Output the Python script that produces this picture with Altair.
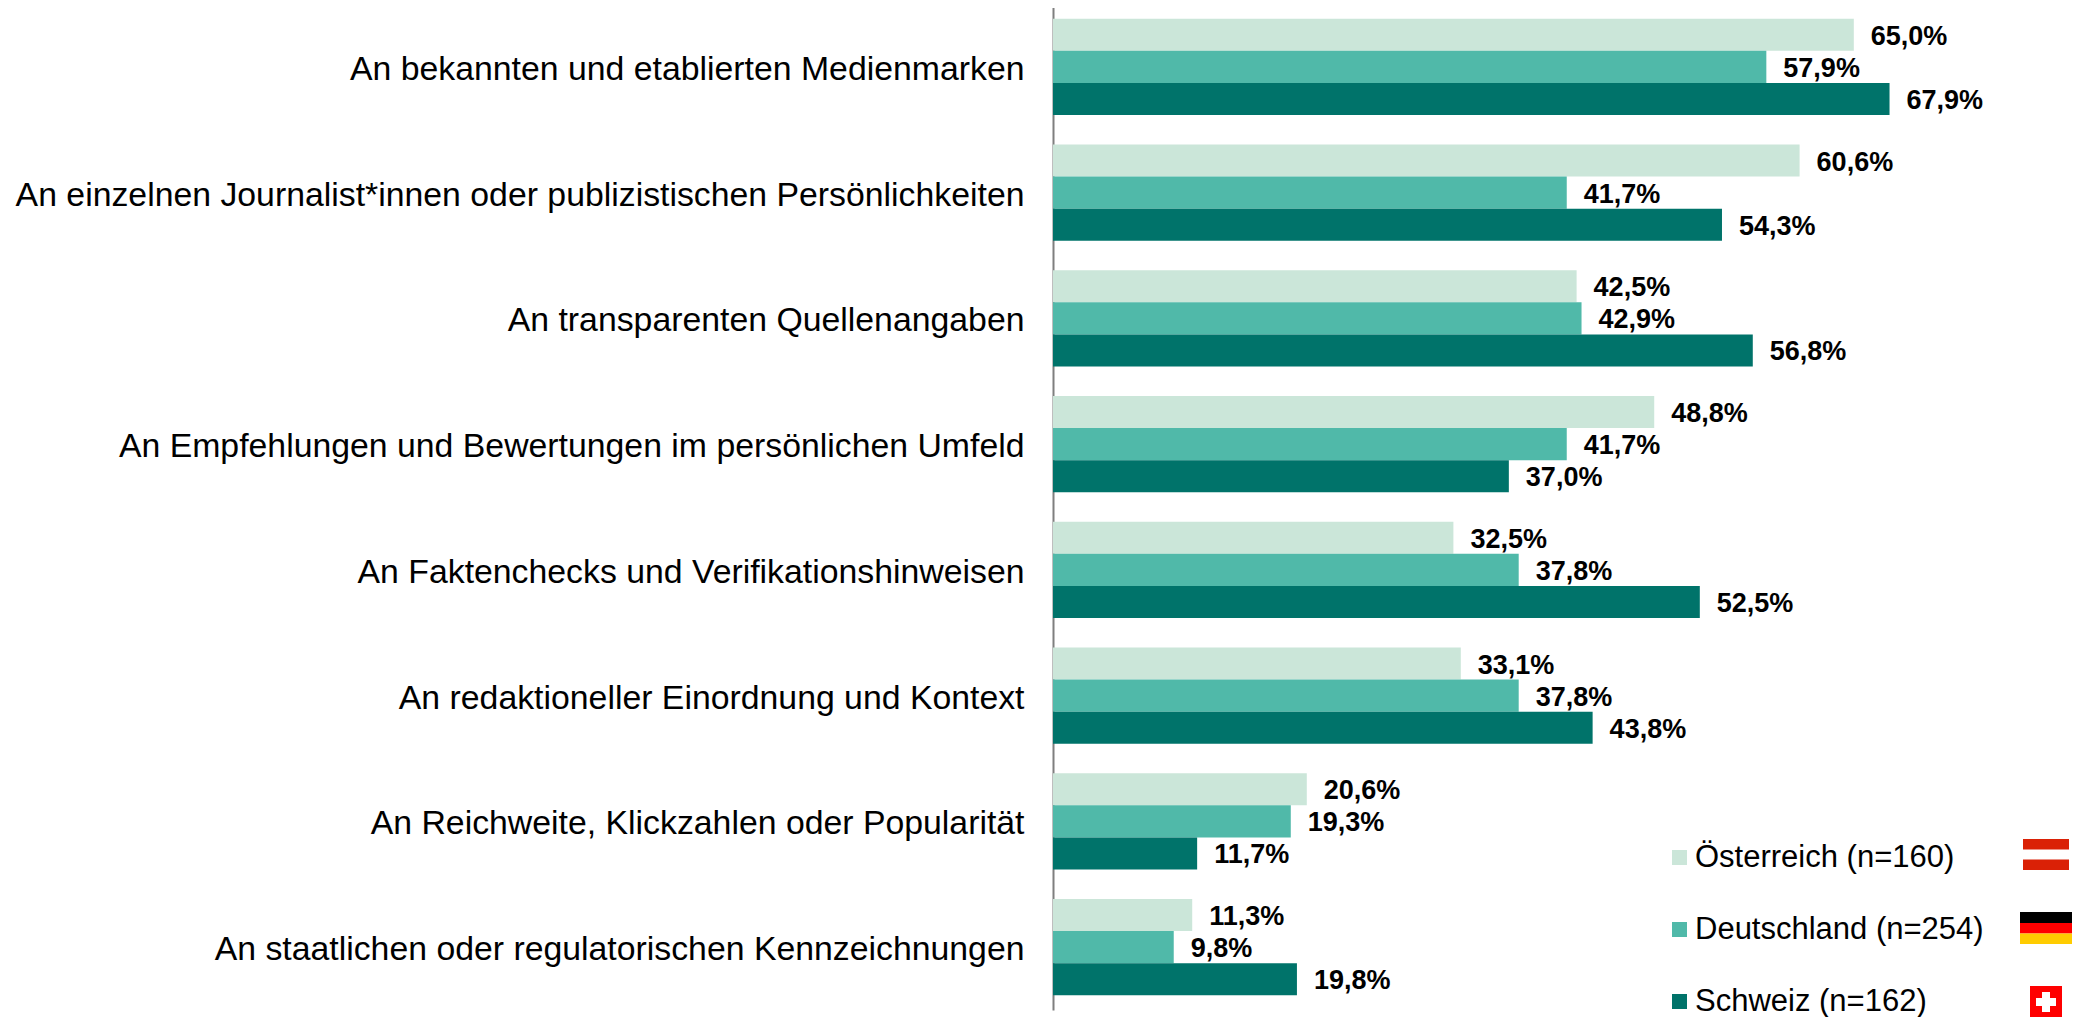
import altair as alt
import pandas as pd

categories = [
    "An bekannten und etablierten Medienmarken",
    "An einzelnen Journalist*innen oder publizistischen Persönlichkeiten",
    "An transparenten Quellenangaben",
    "An Empfehlungen und Bewertungen im persönlichen Umfeld",
    "An Faktenchecks und Verifikationshinweisen",
    "An redaktioneller Einordnung und Kontext",
    "An Reichweite, Klickzahlen oder Popularität",
    "An staatlichen oder regulatorischen Kennzeichnungen",
]
series = ["Österreich (n=160)", "Deutschland (n=254)", "Schweiz (n=162)"]
colors = ["#CBE6D9", "#50B9A9", "#00736A"]
at = [65.0, 60.6, 42.5, 48.8, 32.5, 33.1, 20.6, 11.3]
de = [57.9, 41.7, 42.9, 41.7, 37.8, 37.8, 19.3, 9.8]
ch = [67.9, 54.3, 56.8, 37.0, 52.5, 43.8, 11.7, 19.8]

rows = []
for s, vals in zip(series, [at, de, ch]):
    for c, v in zip(categories, vals):
        rows.append({"cat": c, "series": s, "v": v})
df = pd.DataFrame(rows)

FONT = "Liberation Sans"
y_enc = alt.Y(
    "cat:N", sort=categories, title=None,
    scale=alt.Scale(range=[-4, 1002], paddingInner=0.236, paddingOuter=0.118),
    axis=alt.Axis(domain=True, domainColor="#7f7f7f", domainWidth=2, ticks=False, grid=False,
                  labelFont=FONT, labelFontSize=33.8, labelColor="#000000", labelLimit=1100,
                  labelPadding=29, labelOffset=3),
)
x_enc = alt.X("v:Q", title=None, axis=None, scale=alt.Scale(domain=[0, 82.71], nice=False))
off = alt.YOffset("series:N", sort=series, scale=alt.Scale(paddingInner=0, paddingOuter=0))

bars = alt.Chart(df).mark_bar(cornerRadius=0, clip=False).encode(
    x=x_enc, y=y_enc, yOffset=off,
    color=alt.Color("series:N", sort=series, scale=alt.Scale(domain=series, range=colors),
                    legend=alt.Legend(title=None, orient="none", legendX=611, legendY=834,
                                      symbolType="square", symbolSize=225, symbolStrokeWidth=0,
                                      symbolOpacity=1, labelFont=FONT, labelFontSize=31,
                                      labelColor="#000000", labelLimit=400, labelOffset=0,
                                      rowPadding=40, clipHeight=31)),
)
labels = alt.Chart(df).transform_calculate(
    lab="replace(format(datum.v, '.1f'), '.', ',') + '%'"
).mark_text(align="left", baseline="middle", dx=17, dy=2, font=FONT, fontSize=27,
            fontWeight="bold", color="#000000").encode(
    x=x_enc, y=y_enc, yOffset=off, text="lab:N",
)

blank = alt.Data(values=[{}])
def box(x1, x2, y1, y2, color):
    # decorative flag piece, positions in pixels relative to the plot area
    return alt.Chart(blank).mark_rect(color=color, clip=False).encode(
        x=alt.value(x1 - 1053), x2=alt.value(x2 - 1053),
        y=alt.value(y1 - 8), y2=alt.value(y2 - 8),
    )

flags = [
    box(2023, 2069, 839, 849.5, "#DA2106"),
    box(2023, 2069, 859.5, 870, "#DA2106"),
    box(2020, 2072, 912, 923, "#000000"),
    box(2020, 2072, 923, 933.5, "#FF0000"),
    box(2020, 2072, 933.5, 944, "#FFCC00"),
    box(2030, 2062, 986, 1017, "#FF0000"),
    box(2036, 2056, 998, 1006, "#FFFFFF"),
    box(2042, 2050, 992, 1012, "#FFFFFF"),
]

chart = alt.layer(bars, labels, *flags).properties(
    width=1019, height=1009,
    padding={"left": 1045, "top": 0, "right": 0, "bottom": 0},
    autosize=alt.AutoSizeParams(type="none"),
    background="#ffffff",
).configure_view(stroke=None)

chart.save("out.html", embed_options={"renderer": "svg", "actions": False})
